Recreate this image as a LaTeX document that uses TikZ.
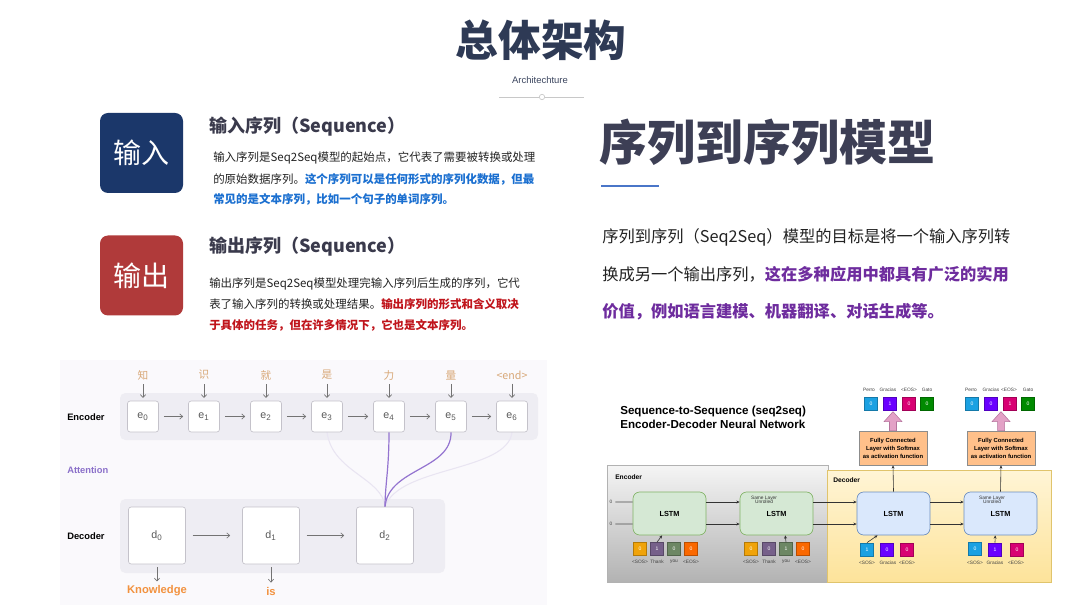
\documentclass[tikz,border=0pt]{standalone}
\usepackage{fontspec}
\setmainfont{Liberation Sans}
\newfontfamily\cjk{Noto Sans CJK SC}
\usetikzlibrary{arrows.meta,calc}
\newcommand{\fsz}[1]{\fontsize{#1}{#1}\selectfont}
\definecolor{cTitle}{HTML}{2E3A55}
\definecolor{cSub}{HTML}{3D4760}
\definecolor{cDiv}{HTML}{C8C8C8}
\definecolor{cIn}{HTML}{1B376A}
\definecolor{cOut}{HTML}{B03A3A}
\definecolor{cHead}{HTML}{3A3A4C}
\definecolor{cBody}{HTML}{222222}
\definecolor{cBlue}{HTML}{1A6FD0}
\definecolor{cRed}{HTML}{C0141B}
\definecolor{cBig}{HTML}{3D3F55}
\definecolor{cRule}{HTML}{4A76C8}
\definecolor{cPurple}{HTML}{6E2C9E}
\definecolor{cBg}{HTML}{FAF9FC}
\definecolor{cBand}{HTML}{EEEDF3}
\definecolor{cBoxLine}{HTML}{C4C2CA}
\definecolor{cWord}{HTML}{D8A878}
\definecolor{cAttn}{HTML}{9474D0}
\definecolor{cAttnF}{HTML}{E9E5F2}
\definecolor{cOrangeW}{HTML}{F2923F}
\definecolor{cAttLab}{HTML}{8A6FC9}
\definecolor{tOrange}{HTML}{F0A30A}
\definecolor{tPurple}{HTML}{76608A}
\definecolor{tGreen}{HTML}{6D8764}
\definecolor{tRed}{HTML}{FA6800}
\definecolor{tBlue}{HTML}{1BA1E2}
\definecolor{tViolet}{HTML}{6A00FF}
\definecolor{tCrimson}{HTML}{D80073}
\definecolor{tGreenB}{HTML}{008A00}
\definecolor{lEfill}{HTML}{D5E8D4}
\definecolor{lEline}{HTML}{82B366}
\definecolor{lDfill}{HTML}{DAE8FC}
\definecolor{lDline}{HTML}{6C8EBF}
\definecolor{fcFill}{HTML}{FFC08A}
\definecolor{pinkF}{HTML}{E3A1C6}
\definecolor{pinkL}{HTML}{B5739D}
\definecolor{decTop}{HTML}{FFF5D6}
\definecolor{decBot}{HTML}{FDE39A}
\definecolor{decLine}{HTML}{E0C46C}
\tikzset{
  head/.style={font=\cjk\bfseries\fsz{13.5}, text=cHead, anchor=west, inner sep=0pt},
  body/.style={font=\cjk\fsz{8.6}, text=cBody, anchor=west, inner sep=0pt},
  para/.style={font=\cjk\fsz{12.2}, text=cBody, anchor=west, inner sep=0pt},
  bigbox/.style={rounded corners=6pt, minimum width=62.25pt, minimum height=60pt, text=white, font=\cjk\fsz{21}, inner sep=0pt},
  word/.style={font=\cjk\fsz{8}, text=cWord, inner sep=0pt},
  ebox/.style={draw=cBoxLine, fill=white, rounded corners=2pt, minimum size=23.25pt, inner sep=0pt, font=\fsz{8}, text=black!65, line width=0.5pt},
  dbox/.style={draw=cBoxLine, fill=white, rounded corners=2pt, minimum size=42.75pt, inner sep=0pt, font=\fsz{8}, text=black!65, line width=0.5pt},
  garrow/.style={draw=black!55, line width=0.5pt, -{Straight Barb[length=2.2pt,width=4pt]}},
  rowlab/.style={font=\bfseries\fsz{7}, anchor=west, inner sep=0pt},
  attn/.style={draw=cAttn, line width=0.9pt},
  attnf/.style={draw=cAttnF, line width=0.8pt},
  lstmE/.style={draw=lEline, fill=lEfill, rounded corners=5pt, minimum width=54.75pt, minimum height=32.25pt, font=\bfseries\fsz{5.5}, inner sep=0pt, line width=0.5pt},
  lstmD/.style={draw=lDline, fill=lDfill, rounded corners=5pt, minimum width=54.75pt, minimum height=32.25pt, font=\bfseries\fsz{5.5}, inner sep=0pt, line width=0.5pt},
  tok/.style={fill=#1, draw=#1!75!black, line width=0.3pt, minimum size=10pt, inner sep=0pt, text=white, font=\fsz{3.8}},
  tlab/.style={font=\fsz{3.6}, text=black!75, inner sep=0pt},
  small/.style={font=\fsz{3.6}, text=black!80, inner sep=0pt, align=center},
  fc/.style={draw=black!45, fill=fcFill, minimum width=51pt, minimum height=25.5pt, align=center, font=\bfseries\fontsize{4.4}{6}\selectfont, inner sep=0pt, line width=0.5pt},
  blk/.style={draw=black!80, line width=0.45pt, -{Stealth[length=2.5pt,width=2.2pt]}},
  pinkarrow/.style={fill=pinkF, draw=pinkL, line width=0.4pt},
  panlab/.style={font=\bfseries\fsz{5}, anchor=west, inner sep=0pt}
}
\begin{document}
\begin{tikzpicture}[x=0.75pt,y=-0.75pt]
\useasboundingbox (0,0) rectangle (1080,605);
\fill[white] (0,0) rectangle (1080,605);

% ---------- title ----------
\node[font=\cjk\bfseries\fsz{32}, text=cTitle, inner sep=0pt] (title) at (541,40) {总体架构};
\node[font=\fsz{7.1}, text=cSub, inner sep=0pt] (arch) at (540,80) {Architechture};
\coordinate (dl) at (499,97);
\coordinate (dr) at (584,97);
\node[circle, draw=cDiv, fill=white, minimum size=4pt, inner sep=0pt, line width=0.5pt] (dot) at (542,97) {};
\draw[cDiv, line width=0.6pt] (dl) -- (dot.west) (dot.east) -- (dr);

% ---------- input / output blocks ----------
\node[bigbox, fill=cIn] (inbox) at (141.5,153) {输入};
\node[bigbox, fill=cOut] (outbox) at (141.5,275.5) {输出};

\node[head] (inhead) at (209,127) {输入序列（Sequence）};
\node[body] (in1) at (213,158) {输入序列是Seq2Seq模型的起始点，它代表了需要被转换或处理};
\node[body] (in2) at (213,179) {的原始数据序列。{\color{cBlue}\bfseries 这个序列可以是任何形式的序列化数据，但最}};
\node[body, text=cBlue, font=\cjk\bfseries\fsz{8.6}] (in3) at (213,199) {常见的是文本序列，比如一个句子的单词序列。};

\node[head] (outhead) at (209,247) {输出序列（Sequence）};
\node[body] (out1) at (209,284) {输出序列是Seq2Seq模型处理完输入序列后生成的序列，它代};
\node[body] (out2) at (209,304) {表了输入序列的转换或处理结果。{\color{cRed}\bfseries 输出序列的形式和含义取决}};
\node[body, text=cRed, font=\cjk\bfseries\fsz{8.6}] (out3) at (209,325) {于具体的任务，但在许多情况下，它也是文本序列。};

% ---------- right heading ----------
\node[font=\cjk\bfseries\fsz{36}, text=cBig, anchor=west, inner sep=0pt] (bighead) at (599,142) {序列到序列模型};
\coordinate (rl) at (601,186);
\coordinate (rr) at (659,186);
\draw[cRule, line width=2.2pt] (rl) -- (rr);
\node[para] (p1) at (602,237) {序列到序列（Seq2Seq）模型的目标是将一个输入序列转};
\node[para] (p2) at (602,274) {换成另一个输出序列，{\color{cPurple}\bfseries 这在多种应用中都具有广泛的实用}};
\node[para, text=cPurple, font=\cjk\bfseries\fsz{12.2}] (p3) at (602,312) {价值，例如语言建模、机器翻译、对话生成等。};

% ---------- left-bottom diagram ----------
\fill[cBg] (60,360) rectangle (547,605);
\fill[cBand, rounded corners=4pt] (120,393) rectangle (538,440);
\fill[cBand, rounded corners=4pt] (120,499) rectangle (445,573);

\node[rowlab] (encl) at (67,417) {Encoder};
\node[rowlab, text=cAttLab] (attl) at (67,470) {Attention};
\node[rowlab] (decl) at (67,536) {Decoder};

\coordinate (d2top) at (385,507);

% attention curves
\draw[attnf] (327,432) .. controls (332,472) and (383,478) .. (d2top);
\draw[attnf] (512,432) .. controls (508,472) and (398,466) .. (d2top);
\draw[attn] (451,432) .. controls (452,470) and (388,468) .. (d2top);
\draw[attn] (389,432) .. controls (389,470) and (385,485) .. (d2top);

\foreach \i/\x/\w in {0/143/知,1/204/识,2/266/就,3/327/是,4/389/力,5/451/量,6/512/{<end>}}{
  \node[word] (w\i) at (\x,375) {\w};
  \node[ebox] (e\i) at (\x,416.5) {e\textsubscript{\i}};
  \draw[garrow, shorten <=3pt, shorten >=2pt] (w\i.south) -- (e\i.north);
}
\foreach \i/\j in {0/1,1/2,2/3,3/4,4/5,5/6}
  \draw[garrow, shorten <=3.8pt, shorten >=3.8pt] (e\i) -- (e\j);

\node[dbox] (d0) at (157,535.5) {d\textsubscript{0}};
\node[dbox] (d1) at (271,535.5) {d\textsubscript{1}};
\node[dbox] (d2) at (385,535.5) {d\textsubscript{2}};
\draw[garrow, shorten <=5pt, shorten >=9pt] (d0) -- (d1);
\draw[garrow, shorten <=5pt, shorten >=9pt] (d1) -- (d2);

\node[font=\bfseries\fsz{8.4}, text=cOrangeW, inner sep=0pt] (k0) at (157,591) {Knowledge};
\node[font=\bfseries\fsz{8.4}, text=cOrangeW, inner sep=0pt] (k1) at (271,591) {is};
\draw[garrow, shorten <=2pt, shorten >=3pt] (d0.south) -- (k0.north);
\draw[garrow, shorten <=2pt, shorten >=3pt] (d1.south) -- (k1.north);

% ---------- right-bottom diagram ----------
\node[font=\bfseries\fontsize{8.7}{10.5}\selectfont, align=left, anchor=west, inner sep=0pt] (rtitle) at (620,417) {Sequence-to-Sequence (seq2seq)\\Encoder-Decoder Neural Network};

\draw[draw=black!30, line width=0.5pt, top color=black!4, bottom color=black!30] (607,465) rectangle (828,582);
\draw[draw=decLine, line width=0.5pt, top color=decTop, bottom color=decBot] (827,470) rectangle (1051,582);
\node[panlab] (encp) at (615,477) {Encoder};
\node[panlab] (decp) at (833,480) {Decoder};

\node[lstmE] (l1) at (669.5,513.5) {LSTM};
\node[lstmE] (l2) at (776.5,513.5) {LSTM};
\node[lstmD] (l3) at (893.5,513.5) {LSTM};
\node[lstmD] (l4) at (1000.5,513.5) {LSTM};
\node[small] (su2) at (764,500) {Same Layer\\[-0.6pt]Unrolled};
\node[small] (su4) at (992,500) {Same Layer\\[-0.6pt]Unrolled};

\node[tlab] (z1) at (611,502) {0};
\node[tlab] (z2) at (611,524) {0};
\draw[black!70, line width=0.45pt] (z1.east) ++(2pt,0) -- ([yshift=8.6pt]l1.west);
\draw[black!70, line width=0.45pt] (z2.east) ++(2pt,0) -- ([yshift=-7.9pt]l1.west);
\draw[blk] ([yshift=8.6pt]l1.east) -- ([yshift=8.6pt]l2.west);
\draw[blk] ([yshift=-7.9pt]l1.east) -- ([yshift=-7.9pt]l2.west);
\draw[blk] ([yshift=8.6pt]l2.east) -- ([yshift=8.6pt]l3.west);
\draw[blk] ([yshift=-7.9pt]l2.east) -- ([yshift=-7.9pt]l3.west);
\draw[blk] ([yshift=8.6pt]l3.east) -- ([yshift=8.6pt]l4.west);
\draw[blk] ([yshift=-7.9pt]l3.east) -- ([yshift=-7.9pt]l4.west);

% encoder tokens
\node[tok=tOrange] (a1) at (640,549) {0};
\node[tok=tPurple] (a2) at (657,549) {1};
\node[tok=tGreen] (a3) at (674,549) {0};
\node[tok=tRed] (a4) at (691,549) {0};
\node[tok=tOrange] (b1) at (751,549) {0};
\node[tok=tPurple] (b2) at (769,549) {0};
\node[tok=tGreen] (b3) at (786,549) {1};
\node[tok=tRed] (b4) at (803,549) {0};
\foreach \n/\x/\t in {a1/640/<SOS>,a2/657/Thank,a3/674/you,a4/691/<EOS>,b1/751/<SOS>,b2/769/Thank,b3/786/you,b4/803/<EOS>}
  \node[tlab] (\n l) at (\x,562) {\t};
\draw[blk] (a2.north) -- ([xshift=-5.5pt]l1.south);
\draw[blk] (b3.north) -- ([xshift=6.5pt]l2.south);

% decoder tokens
\node[tok=tBlue] (c1) at (867,549.5) {1};
\node[tok=tViolet] (c2) at (887,549.5) {0};
\node[tok=tCrimson] (c3) at (907,549.5) {0};
\node[tok=tBlue] (f1) at (975,549) {0};
\node[tok=tViolet] (f2) at (995,549.5) {1};
\node[tok=tCrimson] (f3) at (1017,549.5) {0};
\foreach \n/\x/\t in {c1/867/<SOS>,c2/888/Gracias,c3/907/<EOS>,f1/975/<SOS>,f2/995/Gracias,f3/1016/<EOS>}
  \node[tlab] (\n l) at (\x,563) {\t};
\draw[blk] (c1.north) -- ([xshift=-12pt]l3.south);
\draw[blk] (f2.north) -- ([xshift=-4pt]l4.south);

% fully connected layers
\node[fc] (fc1) at (893,448) {Fully Connected\\Layer with Softmax\\as activation function};
\node[fc] (fc2) at (1001,448) {Fully Connected\\Layer with Softmax\\as activation function};
\draw[blk] (l3.north) -- (fc1.south);
\draw[blk] (l4.north) -- (fc2.south);

% output tokens
\node[tok=tBlue] (o1) at (871,404) {0};
\node[tok=tViolet] (o2) at (890,404) {1};
\node[tok=tCrimson] (o3) at (909,404) {0};
\node[tok=tGreenB] (o4) at (927,404) {0};
\node[tok=tBlue] (q1) at (972,404) {0};
\node[tok=tViolet] (q2) at (991,404) {0};
\node[tok=tCrimson] (q3) at (1010,404) {1};
\node[tok=tGreenB] (q4) at (1028,404) {0};
\foreach \n/\x/\t in {o1/869/Perro,o2/888/Gracias,o3/909/<EOS>,o4/927/Gato,q1/971/Perro,q2/991/Gracias,q3/1009/<EOS>,q4/1028/Gato}
  \node[tlab] (\n l) at (\x,390) {\t};

% big pink arrows
\foreach \f in {fc1,fc2}{
  \begin{scope}[shift={(\f.north)}]
    \draw[pinkarrow] (-3.5,0) -- (-3.5,-9) -- (-9,-9) -- (0,-19) -- (9,-9) -- (3.5,-9) -- (3.5,0) -- cycle;
  \end{scope}
}
\end{tikzpicture}
\end{document}
